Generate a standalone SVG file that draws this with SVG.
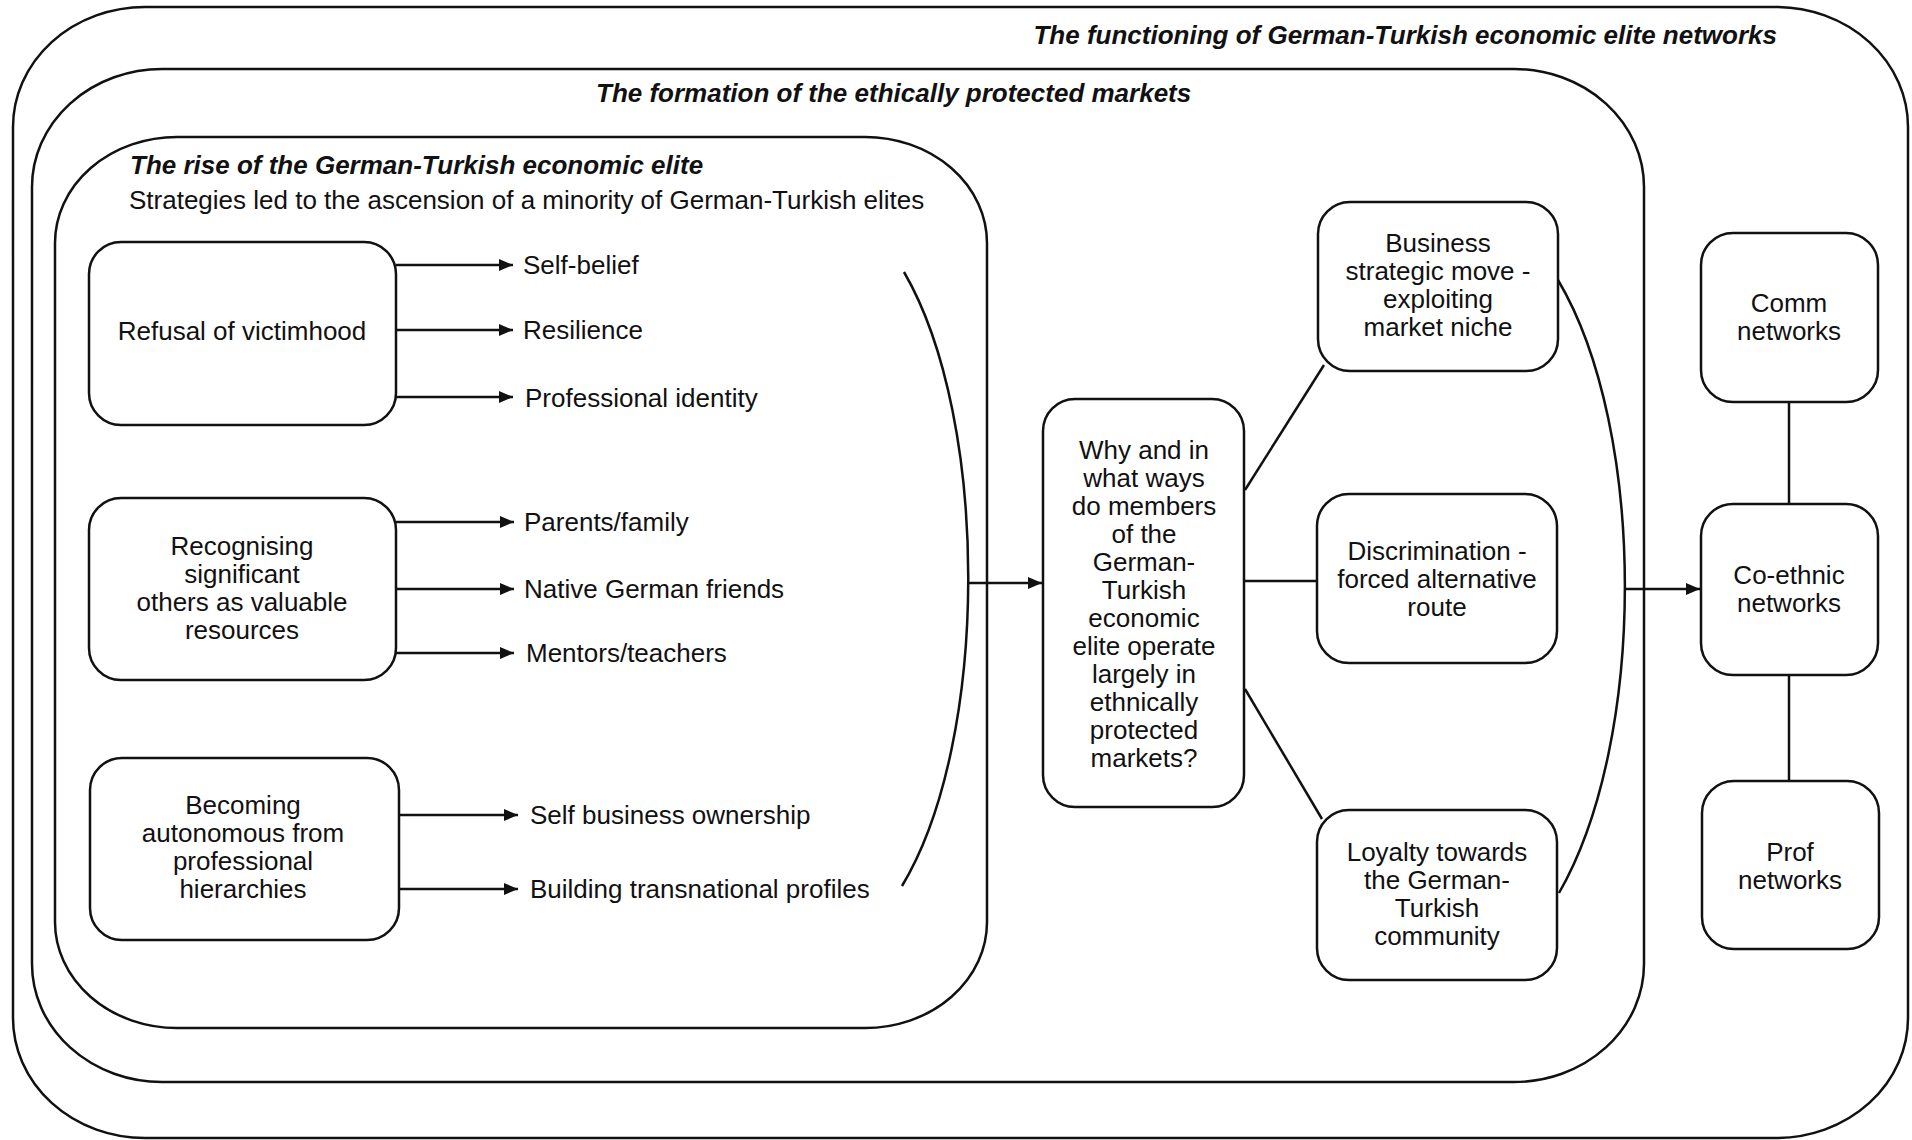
<svg xmlns="http://www.w3.org/2000/svg" width="1912" height="1140" viewBox="0 0 1912 1140">
<style>
  .frame { fill: none; stroke: #111; stroke-width: 2.5; }
  .box { fill: #fff; stroke: #111; stroke-width: 2.5; }
  .ln { fill: none; stroke: #111; stroke-width: 2.5; }
  text { font-family: "Liberation Sans", Arial, Helvetica, sans-serif; font-size: 26px; fill: #111; }
  .c { text-anchor: middle; }
  .title { font-weight: bold; font-style: italic; font-size: 26px; }
</style>
<defs>
  <marker id="arr" viewBox="0 0 14 13" refX="14" refY="6.5" markerWidth="14" markerHeight="13" markerUnits="userSpaceOnUse" orient="auto">
    <path d="M0,0.5 L14,6.5 L0,12.5 z" fill="#111"/>
  </marker>
</defs>
<rect width="1912" height="1140" fill="#fff"/>

<g id="frame-functioning">
  <rect class="frame" x="13" y="7" width="1895" height="1131" rx="132" ry="120"/>
  <text class="title" x="1777" y="44" text-anchor="end">The functioning of German-Turkish economic elite networks</text>
</g>
<g id="frame-formation">
  <rect class="frame" x="32" y="69" width="1612" height="1013" rx="130" ry="118"/>
  <text class="title" x="596" y="102">The formation of the ethically protected markets</text>
</g>
<g id="frame-rise">
  <rect class="frame" x="55" y="137" width="932" height="891" rx="122" ry="106"/>
  <text class="title" x="130" y="174">The rise of the German-Turkish economic elite</text>
  <text x="129" y="209">Strategies led to the ascension of a minority of German-Turkish elites</text>
</g>

<g id="connectors">
  <line class="ln" x1="396" y1="265" x2="513" y2="265" marker-end="url(#arr)"/>
  <line class="ln" x1="396" y1="330" x2="513" y2="330" marker-end="url(#arr)"/>
  <line class="ln" x1="396" y1="397" x2="513" y2="397" marker-end="url(#arr)"/>
  <line class="ln" x1="396" y1="522" x2="514" y2="522" marker-end="url(#arr)"/>
  <line class="ln" x1="396" y1="589" x2="514" y2="589" marker-end="url(#arr)"/>
  <line class="ln" x1="396" y1="653" x2="514" y2="653" marker-end="url(#arr)"/>
  <line class="ln" x1="399" y1="815" x2="518" y2="815" marker-end="url(#arr)"/>
  <line class="ln" x1="399" y1="889" x2="518" y2="889" marker-end="url(#arr)"/>
  <path class="ln" d="M904,272 C990,420 990,740 902,886"/>
  <line class="ln" x1="968" y1="583" x2="1042" y2="583" marker-end="url(#arr)"/>
  <line class="ln" x1="1245" y1="490" x2="1324" y2="365"/>
  <line class="ln" x1="1245" y1="581" x2="1317" y2="581"/>
  <line class="ln" x1="1245" y1="689" x2="1322" y2="819"/>
  <path class="ln" d="M1558,280 C1647,430 1647,740 1559,893"/>
  <line class="ln" x1="1625" y1="589" x2="1700" y2="589" marker-end="url(#arr)"/>
  <line class="ln" x1="1789" y1="402" x2="1789" y2="505"/>
  <line class="ln" x1="1789" y1="675" x2="1789" y2="781"/>
</g>

<g id="refusal">
  <rect class="box" x="89" y="242" width="307" height="183" rx="32"/>
  <text class="c" x="242" y="340">Refusal of victimhood</text>
</g>
<g id="labels-refusal">
  <text x="523" y="274">Self-belief</text>
  <text x="523" y="339">Resilience</text>
  <text x="525" y="407">Professional identity</text>
</g>
<g id="recognising">
  <rect class="box" x="89" y="498" width="307" height="182" rx="32"/>
  <text class="c" x="242" y="555">Recognising</text>
  <text class="c" x="242" y="583">significant</text>
  <text class="c" x="242" y="611">others as valuable</text>
  <text class="c" x="242" y="639">resources</text>
</g>
<g id="labels-recognising">
  <text x="524" y="531">Parents/family</text>
  <text x="524" y="598">Native German friends</text>
  <text x="526" y="662">Mentors/teachers</text>
</g>
<g id="becoming">
  <rect class="box" x="90" y="758" width="309" height="182" rx="32"/>
  <text class="c" x="243" y="814">Becoming</text>
  <text class="c" x="243" y="842">autonomous from</text>
  <text class="c" x="243" y="870">professional</text>
  <text class="c" x="243" y="898">hierarchies</text>
</g>
<g id="labels-becoming">
  <text x="530" y="824">Self business ownership</text>
  <text x="530" y="898">Building transnational profiles</text>
</g>

<g id="question">
  <rect class="box" x="1043" y="399" width="201" height="408" rx="32"/>
  <text class="c" x="1144" y="459">Why and in</text>
  <text class="c" x="1144" y="487">what ways</text>
  <text class="c" x="1144" y="515">do members</text>
  <text class="c" x="1144" y="543">of the</text>
  <text class="c" x="1144" y="571">German-</text>
  <text class="c" x="1144" y="599">Turkish</text>
  <text class="c" x="1144" y="627">economic</text>
  <text class="c" x="1144" y="655">elite operate</text>
  <text class="c" x="1144" y="683">largely in</text>
  <text class="c" x="1144" y="711">ethnically</text>
  <text class="c" x="1144" y="739">protected</text>
  <text class="c" x="1144" y="767">markets?</text>
</g>

<g id="business">
  <rect class="box" x="1318" y="202" width="240" height="169" rx="32"/>
  <text class="c" x="1438" y="252">Business</text>
  <text class="c" x="1438" y="280">strategic move -</text>
  <text class="c" x="1438" y="308">exploiting</text>
  <text class="c" x="1438" y="336">market niche</text>
</g>
<g id="discrimination">
  <rect class="box" x="1317" y="494" width="240" height="169" rx="32"/>
  <text class="c" x="1437" y="560">Discrimination -</text>
  <text class="c" x="1437" y="588">forced alternative</text>
  <text class="c" x="1437" y="616">route</text>
</g>
<g id="loyalty">
  <rect class="box" x="1317" y="810" width="240" height="170" rx="32"/>
  <text class="c" x="1437" y="861">Loyalty towards</text>
  <text class="c" x="1437" y="889">the German-</text>
  <text class="c" x="1437" y="917">Turkish</text>
  <text class="c" x="1437" y="945">community</text>
</g>

<g id="comm">
  <rect class="box" x="1701" y="233" width="177" height="169" rx="32"/>
  <text class="c" x="1789" y="312">Comm</text>
  <text class="c" x="1789" y="340">networks</text>
</g>
<g id="coethnic">
  <rect class="box" x="1701" y="504" width="177" height="171" rx="32"/>
  <text class="c" x="1789" y="584">Co-ethnic</text>
  <text class="c" x="1789" y="612">networks</text>
</g>
<g id="prof">
  <rect class="box" x="1702" y="781" width="177" height="168" rx="32"/>
  <text class="c" x="1790" y="861">Prof</text>
  <text class="c" x="1790" y="889">networks</text>
</g>
</svg>
